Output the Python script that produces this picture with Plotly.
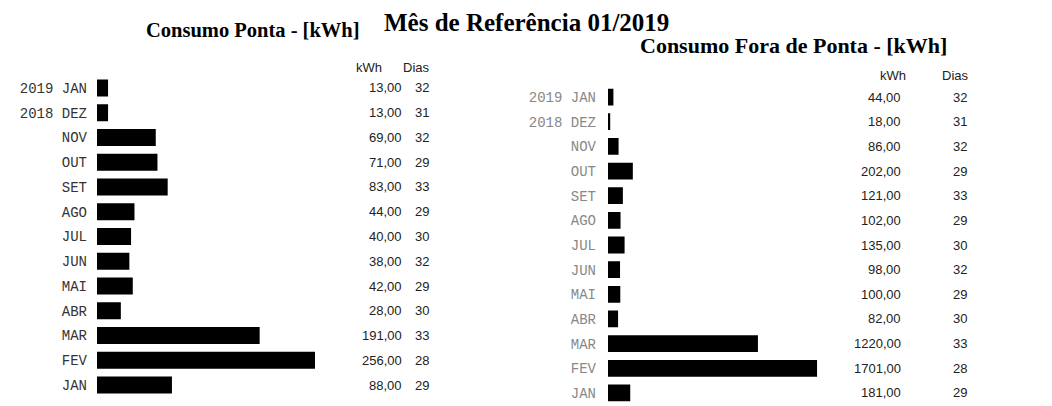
import plotly.graph_objects as go

# ---- data ----
categories = ["2019 JAN", "2018 DEZ", "NOV", "OUT", "SET", "AGO", "JUL",
              "JUN", "MAI", "ABR", "MAR", "FEV", "JAN"]
ponta_kwh = [13, 13, 69, 71, 83, 44, 40, 38, 42, 28, 191, 256, 88]
fora_ponta_kwh = [44, 18, 86, 202, 121, 102, 135, 98, 100, 82, 1220, 1701, 181]
dias = [32, 31, 32, 29, 33, 29, 30, 32, 29, 30, 33, 28, 29]

OFF = 8  # page body margin
W, H = 1052 - OFF, 406 - OFF


def px_x(p):
    return (p - OFF) / W


def px_y(p):
    return 1 - (p - OFF) / H


fig = go.Figure()

fig.add_trace(go.Bar(y=categories, x=ponta_kwh, orientation="h",
                     marker=dict(color="black", line=dict(width=0)),
                     width=0.68, xaxis="x", yaxis="y", hoverinfo="x+y"))
fig.add_trace(go.Bar(y=categories, x=fora_ponta_kwh, orientation="h",
                     marker=dict(color="black", line=dict(width=0)),
                     width=0.68, xaxis="x2", yaxis="y2", hoverinfo="x+y"))

val_font = dict(family="Liberation Sans", size=13, color="#222")

fig.update_layout(
    width=W, height=H,
    margin=dict(l=0, r=0, t=0, b=0),
    paper_bgcolor="white", plot_bgcolor="white",
    showlegend=False,
    xaxis=dict(domain=[px_x(97), px_x(360)], range=[0, 263 / 0.8516],
               visible=False, fixedrange=True),
    yaxis=dict(domain=[px_y(397.4), px_y(75.6)], type="category",
               categoryorder="array", categoryarray=categories,
               autorange="reversed", showgrid=False, zeroline=False,
               showline=False, ticks="", automargin=False,
               tickfont=dict(family="Liberation Mono", size=14, color="#333"),
               ticklabelstandoff=9, anchor="x"),
    xaxis2=dict(domain=[px_x(608), px_x(840)], range=[0, 232 / 0.1229],
                visible=False, fixedrange=True, anchor="y2"),
    yaxis2=dict(domain=[px_y(405.3), px_y(84.7)], type="category",
                categoryorder="array", categoryarray=categories,
                autorange="reversed", showgrid=False, zeroline=False,
                showline=False, ticks="", automargin=False,
                tickfont=dict(family="Liberation Mono", size=14, color="#888"),
                ticklabelstandoff=11, anchor="x2"),
)

ann = []


def title_ann(text, x, y, size):
    return dict(text=f"<b>{text}</b>", x=px_x(x), y=px_y(y),
                xref="paper", yref="paper", showarrow=False,
                xanchor="center", yanchor="middle",
                font=dict(family="Liberation Serif", size=size, color="black"))


ann.append(title_ann("Mês de Referência 01/2019", 526, 23, 25))
ann.append(title_ann("Consumo Ponta - [kWh]", 253, 30, 20.5))
ann.append(title_ann("Consumo Fora de Ponta - [kWh]", 793, 46, 22))


def fmt(v):
    return f"{v:.2f}".replace(".", ",")


# column headers
for x_k, x_d, yy in [(384, 432, 67), (908, 971, 75)]:
    ann.append(dict(text="kWh", x=px_x(x_k), y=px_y(yy), xref="paper", yref="paper",
                    xanchor="right", yanchor="middle", showarrow=False, font=val_font))
    ann.append(dict(text="Dias", x=px_x(x_d), y=px_y(yy), xref="paper", yref="paper",
                    xanchor="right", yanchor="middle", showarrow=False, font=val_font))

for cat, v, d in zip(categories, ponta_kwh, dias):
    ann.append(dict(text=fmt(v), x=px_x(404), y=cat, xref="paper", yref="y",
                    xanchor="right", yanchor="middle", showarrow=False, font=val_font))
    ann.append(dict(text=str(d), x=px_x(431), y=cat, xref="paper", yref="y",
                    xanchor="right", yanchor="middle", showarrow=False, font=val_font))
for cat, v, d in zip(categories, fora_ponta_kwh, dias):
    ann.append(dict(text=fmt(v), x=px_x(903), y=cat, xref="paper", yref="y2",
                    xanchor="right", yanchor="middle", showarrow=False, font=val_font))
    ann.append(dict(text=str(d), x=px_x(969), y=cat, xref="paper", yref="y2",
                    xanchor="right", yanchor="middle", showarrow=False, font=val_font))

fig.update_layout(annotations=ann)
fig.write_html("out.html")
